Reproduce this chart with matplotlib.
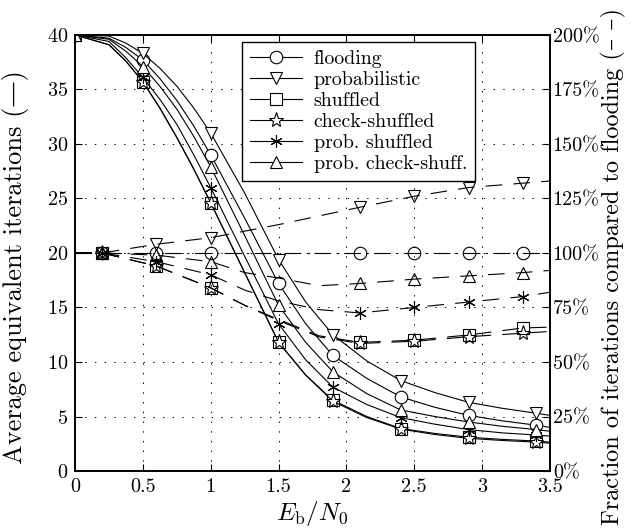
import matplotlib
matplotlib.use("Agg")
import matplotlib.pyplot as plt
from matplotlib.ticker import FuncFormatter

# solid curves: average equivalent iterations (left axis)
x_iter = [0, 0.25, 0.375, 0.5, 0.625, 0.75, 0.875, 1.0, 1.25, 1.5, 1.7, 1.9,
          2.15, 2.4, 2.65, 2.9, 3.15, 3.4, 3.5]
it_flooding = [40, 39.7, 38.85, 37.7, 36.0, 34.0, 31.65, 29.0, 23.2, 17.2, 13.5, 10.6,
               8.5, 6.8, 5.85, 5.1, 4.6, 4.2, 4.0]
it_prob = [40, 39.9, 39.25, 38.3, 36.95, 35.3, 33.3, 31.0, 25.5, 19.4, 15.5, 12.5,
           10.1, 8.3, 7.2, 6.3, 5.75, 5.3, 5.1]
it_shuffled = [40, 39.1, 37.6, 35.7, 33.3, 30.6, 27.7, 24.6, 18.2, 11.8, 8.8, 6.5,
               5.0, 3.9, 3.45, 3.1, 2.9, 2.75, 2.65]
it_check = [40, 39.1, 37.6, 35.7, 33.3, 30.6, 27.7, 24.6, 18.2, 11.8, 8.8, 6.4,
            4.9, 3.85, 3.35, 3.0, 2.8, 2.65, 2.55]
it_prob_shuf = [40, 39.4, 37.9, 36.1, 34.1, 31.8, 29.0, 26.0, 19.7, 13.5, 10.2, 7.7,
                6.1, 4.9, 4.3, 3.8, 3.5, 3.3, 3.2]
it_prob_check = [40, 39.6, 38.5, 37.1, 35.3, 33.2, 30.7, 27.9, 21.6, 15.2, 11.8, 9.1,
                 7.1, 5.6, 5.0, 4.5, 4.1, 3.8, 3.65]
iter_marks = [0, 3, 7, 9, 11, 13, 15, 17]

# dashed curves: fraction compared to flooding in % (right axis)
x_frac = [0, 0.2, 0.4, 0.6, 0.8, 1.0, 1.25, 1.5, 1.8, 2.1, 2.5, 2.9, 3.3, 3.5]
fr_flooding = [100] * 14
fr_prob = [100, 100, 102, 104, 105.5, 107, 110, 113, 117, 121, 126, 130, 132, 133]
fr_shuffled = [100, 100, 97, 94, 89, 84, 76, 69.5, 62, 59, 60, 62.4, 65.6, 66]
fr_check = [100, 100, 97, 94, 89, 84, 76, 69, 61.5, 58.5, 59.5, 61.6, 63.2, 64]
fr_prob_shuf = [100, 100, 98, 96, 93, 90, 83, 78, 74, 72.5, 75, 77.5, 80, 82]
fr_prob_check = [100, 100, 99.5, 99, 97.5, 96, 91, 88.5, 85, 86, 88, 89.5, 91, 92]
frac_marks = [1, 3, 5, 9, 10, 11, 12]

names = ["flooding", "probabilistic", "shuffled", "check-shuffled",
         "prob. shuffled", "prob. check-shuff."]
iters = [it_flooding, it_prob, it_shuffled, it_check, it_prob_shuf, it_prob_check]
fracs = [fr_flooding, fr_prob, fr_shuffled, fr_check, fr_prob_shuf, fr_prob_check]
markers = ["o", "v", "s", "*", (6, 2, 0), "^"]

x_ticks = [0, 0.5, 1, 1.5, 2, 2.5, 3, 3.5]
x_ticklabels = ["0", "0.5", "1", "1.5", "2", "2.5", "3", "3.5"]

plt.rcParams["font.family"] = ["cmr10", "DejaVu Serif"]
plt.rcParams["mathtext.fontset"] = "cm"
plt.rcParams["axes.unicode_minus"] = False
plt.rcParams["axes.formatter.use_mathtext"] = True
plt.rcParams["lines.scale_dashes"] = False

fig = plt.figure(figsize=(6.41, 5.29), dpi=100)
ax = fig.add_axes([0.117, 0.1096, 0.741, 0.8244])
ax2 = ax.twinx()

handles = []
for name, y, m in zip(names, iters, markers):
    ms = 11 if m == "*" else 9
    h, = ax.plot(x_iter, y, color="black", lw=0.8, marker=m, markevery=iter_marks,
                 ms=ms, mfc="white", mec="black", mew=0.8, label=name)
    handles.append(h)

for name, y, m in zip(names, fracs, markers):
    ms = 11 if m == "*" else 9
    if name == "flooding":
        dash = (12, 4, 1.5, 4)
    else:
        dash = (12, 8)
    ax2.plot(x_frac, y, color="black", lw=0.8, dashes=dash, marker=m, markevery=frac_marks,
             ms=ms, mfc="none", mec="black", mew=0.8)

ax.set_xlim(0, 3.5)
ax.set_ylim(0, 40)
ax2.set_ylim(0, 200)
ax.set_xticks(x_ticks)
ax.set_xticklabels(x_ticklabels)
ax.set_yticks(range(0, 41, 5))
ax2.set_yticks(range(0, 201, 25))
ax2.yaxis.set_major_formatter(FuncFormatter(lambda v, p: f"{int(v)}%"))

ax.grid(True, color="black", linestyle=(0, (1, 6)), lw=0.7)
ax.tick_params(direction="in", length=5, labelsize=14.5, top=True, width=0.8, pad=5)
ax2.tick_params(direction="in", length=5, labelsize=14.5, width=0.8, pad=2)
for a in (ax, ax2):
    for s in a.spines.values():
        s.set_linewidth(1.2)

ax.set_xlabel(r"$E_{\mathrm{b}}/N_0$", fontsize=18, labelpad=2)
ax.set_ylabel("Average equivalent iterations (—)", fontsize=19)
ax.yaxis.set_label_coords(-0.097, 0.468)
ax2.set_ylabel("Fraction of iterations compared to flooding (– –)", fontsize=17.5)
ax2.yaxis.set_label_coords(1.107, 0.468)

leg = ax2.legend(handles=handles, loc="upper left", bbox_to_anchor=(0.352, 0.984),
                 fontsize=14.3, fancybox=False, framealpha=1, edgecolor="black",
                 borderpad=0.4, labelspacing=0.15, handlelength=2.6, handletextpad=0.6,
                 borderaxespad=0)
leg.get_frame().set_linewidth(1.0)

fig.savefig("out.png", dpi=100)
